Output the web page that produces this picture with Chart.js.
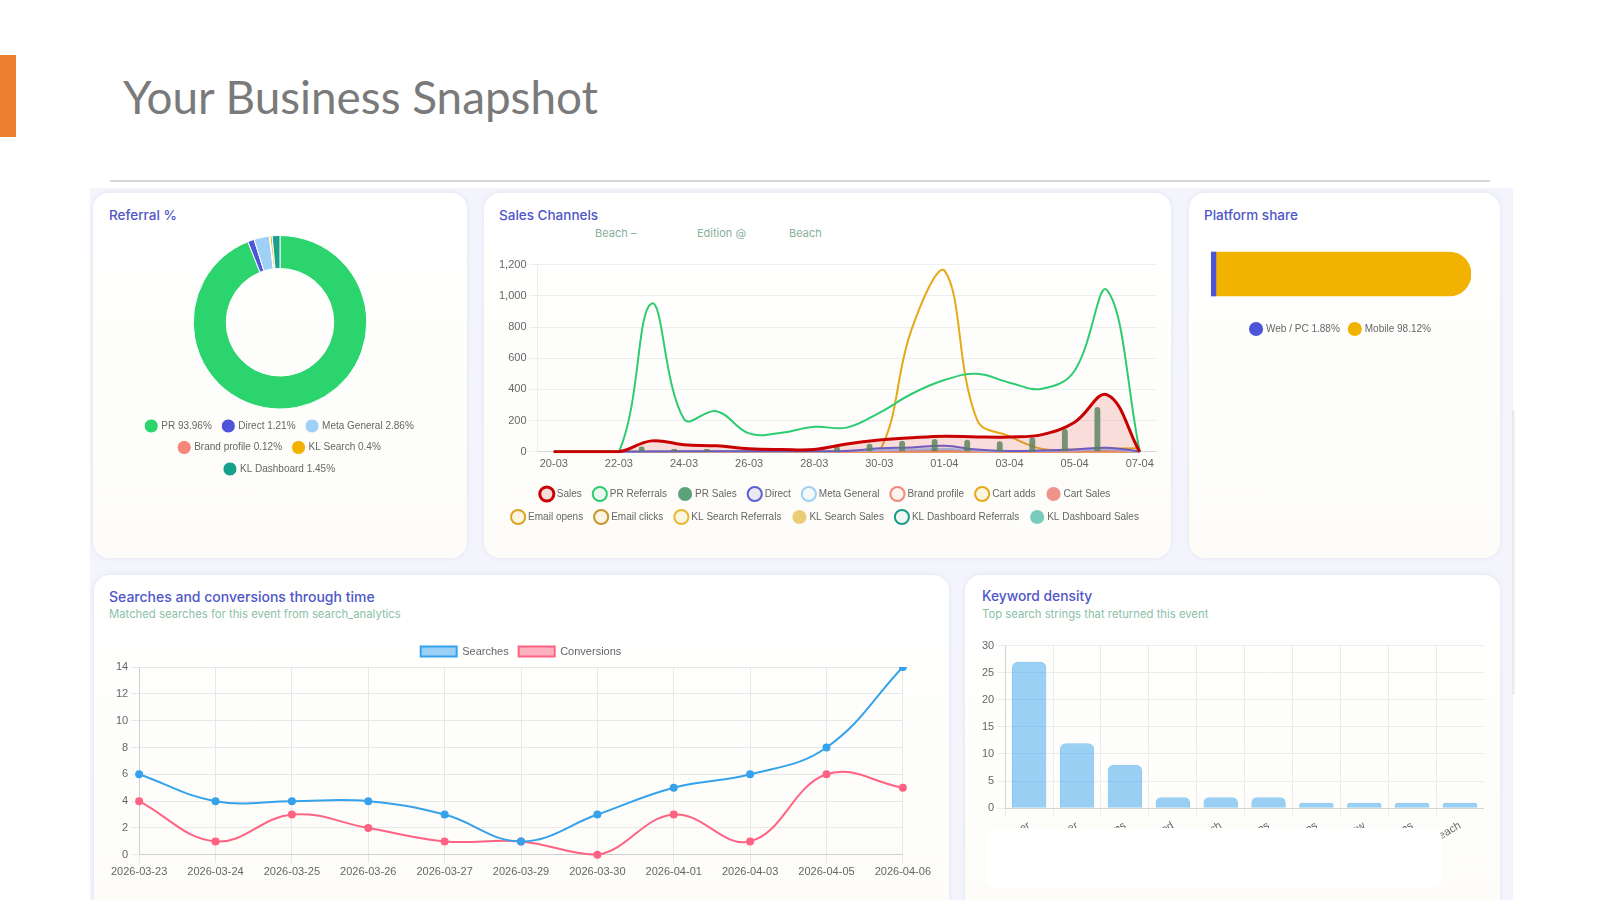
<!DOCTYPE html>
<html><head><meta charset="utf-8">
<script src="https://cdn.jsdelivr.net/npm/chart.js@4.4.1/dist/chart.umd.min.js"></script>
<style>
html,body{margin:0;padding:0;background:#fff;width:1600px;height:900px;overflow:hidden;font-family:'Liberation Sans',Arial,sans-serif;}
.abs{position:absolute;}
#accent{left:0;top:55px;width:16px;height:82px;background:#ed7d31;}
#rule{left:110px;top:180px;width:1380px;height:2px;background:#d6d6d6;}
#dash{left:90px;top:188px;width:1423px;height:712px;background:#f4f5fc;}
#scroll{left:1512px;top:410px;width:3px;height:285px;background:linear-gradient(90deg,#e4e4ea,#f6f6f9);}
.card{position:absolute;background:linear-gradient(#ffffff,#fdfcf8);border-radius:16px;box-shadow:0 0 5px rgba(205,210,238,0.55);}
.ct{position:absolute;font-family:Inter,'Open Sans',sans-serif;font-weight:500;font-size:13.5px;color:#4f56c8;white-space:nowrap;}
.cs{position:absolute;font-family:Inter,'Open Sans',sans-serif;font-size:11.3px;color:#8cbfa8;white-space:nowrap;}
.sub{position:absolute;font-family:Inter,'Open Sans',sans-serif;font-size:11px;color:#86b09c;white-space:nowrap;}
canvas{position:absolute;}
#mask{left:986px;top:828px;width:456px;height:60px;background:#fff;border-radius:12px;}
</style></head>
<body>
<div id="accent" class="abs"></div>
<svg class="abs" style="left:0;top:0" width="700" height="140"><text x="123" y="114" font-family="Lato" font-size="46" fill="#7a7a7a" textLength="475" lengthAdjust="spacingAndGlyphs">Your Business Snapshot</text></svg>
<div id="rule" class="abs"></div>
<div id="dash" class="abs"></div>
<div id="scroll" class="abs"></div>

<div class="card" style="left:93px;top:193px;width:374px;height:365px;"></div>
<div class="card" style="left:484px;top:193px;width:687px;height:365px;"></div>
<div class="card" style="left:1189px;top:193px;width:311px;height:365px;"></div>
<div class="card" style="left:94px;top:575px;width:855px;height:340px;"></div>
<div class="card" style="left:965px;top:575px;width:535px;height:340px;"></div>

<div class="ct" style="left:109px;top:207px;">Referral %</div>
<div class="ct" style="left:499px;top:207px;">Sales Channels</div>
<div class="sub" style="left:595px;top:226px;">Beach –</div>
<div class="sub" style="left:697px;top:226px;">Edition @</div>
<div class="sub" style="left:789px;top:226px;">Beach</div>
<div class="ct" style="left:1204px;top:207px;">Platform share</div>
<div class="ct" style="left:109px;top:588px;font-size:14px;">Searches and conversions through time</div>
<div class="cs" style="left:109px;top:607px;">Matched searches for this event from search_analytics</div>
<div class="ct" style="left:982px;top:588px;font-size:13.8px;">Keyword density</div>
<div class="cs" style="left:982px;top:607px;">Top search strings that returned this event</div>

<canvas id="ref" width="310" height="249" style="left:125px;top:235px;"></canvas>
<canvas id="sales" width="664" height="277" style="left:496px;top:255px;"></canvas>
<canvas id="plat" width="290" height="110" style="left:1200px;top:234px;"></canvas>
<canvas id="search" width="826" height="246" style="left:108px;top:636px;"></canvas>
<canvas id="kw" width="505" height="215" style="left:979px;top:636px;"></canvas>
<div id="mask" class="abs"></div>

<script>
// ---------- Referral % ----------
const referralLabels = ['PR', 'Direct', 'Meta General', 'Brand profile', 'KL Search', 'KL Dashboard'];
const referralPct = [93.96, 1.21, 2.86, 0.12, 0.4, 1.45];

// ---------- Sales Channels ----------
const salesDates = ['20-03','21-03','22-03','23-03','24-03','25-03','26-03','27-03','28-03','29-03','30-03','31-03','01-04','02-04','03-04','04-04','05-04','06-04','07-04'];
const salesSeries          = [0,0,0,70,45,38,20,15,15,50,75,90,100,95,95,110,190,365,0];
const prReferrals          = [0,0,0,950,210,260,118,122,160,155,250,372,460,500,443,404,520,1035,0];
const prSales              = [0,0,0,34,18,18,0,0,0,34,51,71,82,78,67,93,146,287,0];
const directSeries         = [0,0,0,2,3,3,3,3,3,5,22,28,38,14,5,8,15,26,2];
const metaGeneral          = [0,0,0,3,4,4,3,3,3,6,10,14,18,8,5,6,10,16,0];
const brandProfile         = [0,0,0,0,0,0,0,0,0,0,1,1,2,1,1,1,1,2,0];
const cartAdds             = [0,0,0,0,0,0,0,0,0,0,0,790,1163,206,99,18,15,20,22];
const cartSales            = [0,0,0,0,0,0,0,0,0,0,0,0,0,0,0,0,0,0,0];
const emailOpens           = [0,0,0,0,0,0,0,0,0,0,0,0,0,0,0,0,0,0,0];
const emailClicks          = [0,0,0,0,0,0,0,0,0,0,0,0,0,0,0,0,0,0,0];
const klSearchReferrals    = [0,0,0,0,0,0,0,0,0,0,4,8,10,6,4,3,4,6,0];
const klSearchSales        = [0,0,0,0,0,0,0,0,0,0,0,0,0,0,0,0,0,0,0];
const klDashReferrals      = [0,0,0,1,1,1,1,1,1,2,6,10,14,6,4,5,8,12,0];
const klDashSales          = [0,0,0,0,0,0,0,0,0,0,0,0,0,0,0,0,0,0,0];

// ---------- Platform share ----------
const platformLabels = ['Web / PC', 'Mobile'];
const platformPct = [1.88, 98.12];

// ---------- Searches and conversions ----------
const searchDates = ['2026-03-23','2026-03-24','2026-03-25','2026-03-26','2026-03-27','2026-03-29','2026-03-30','2026-04-01','2026-04-03','2026-04-05','2026-04-06'];
const searchesSeries    = [6,4,4,4,3,1,3,5,6,8,14];
const conversionsSeries = [4,1,3,2,1,1,0,3,1,6,5];

// ---------- Keyword density ----------
const keywordLabels = ['…er','…er','…ns','…od','…ch','…ns','…ns','…ew','…ns','…each'];
const keywordCounts = [27,12,8,2,2,2,1,1,1,1];

Chart.defaults.font.family = "'Liberation Sans', Arial, sans-serif";
Chart.defaults.color = '#666';
Chart.defaults.animation = false;

function limitLegendWidth(chart, w) {
  const lg = chart.legend;
  const fit = lg.fit;
  lg.fit = function () {
    const m = this.maxWidth;
    this.maxWidth = Math.min(m, w);
    fit.call(this);
    this.maxWidth = m;
    this.width = m;
  };
  chart.update();
}

new Chart(document.getElementById('ref'), {
  type: 'doughnut',
  data: {
    labels: referralLabels.map((l, i) => l + ' ' + referralPct[i] + '%'),
    datasets: [{
      data: referralPct,
      backgroundColor: ['#2bd46c','#4d54d8','#9fd0f6','#f4877a','#f2b200','#17a08c'],
      borderColor: '#fff', borderWidth: 1
    }]
  },
  options: {
    responsive: false, cutout: '62%',
    plugins: {
      legend: { position: 'bottom', labels: { usePointStyle: true, pointStyle: 'circle', boxHeight: 10, font: { size: 10 }, padding: 11.5 } },
      tooltip: { enabled: false }
    }
  }
});

function lineDs(label, data, border, bg, width, fill) {
  return { type: 'line', label, data, borderColor: border, backgroundColor: bg, borderWidth: width,
           fill: fill ? 'origin' : false, tension: 0.4, pointRadius: 0, pointStyle: 'circle' };
}
function barDs(label, data, bg) {
  return { type: 'bar', label, data, backgroundColor: bg, borderWidth: 0, borderRadius: 3, pointStyle: 'circle' };
}

const salesChart = new Chart(document.getElementById('sales'), {
  type: 'bar',
  data: {
    labels: salesDates,
    datasets: [
      lineDs('Sales', salesSeries, '#c80000', 'rgba(225,80,80,0.18)', 3, true),
      lineDs('PR Referrals', prReferrals, '#2ecc71', 'rgba(46,204,113,0.08)', 2, false),
      barDs('PR Sales', prSales, 'rgba(52,140,90,0.8)'),
      lineDs('Direct', directSeries, '#5b5fd6', 'rgba(91,95,214,0.12)', 2, true),
      lineDs('Meta General', metaGeneral, '#9fd0f6', 'rgba(159,208,246,0.08)', 2, false),
      lineDs('Brand profile', brandProfile, '#f4877a', 'rgba(244,135,122,0.08)', 2, false),
      lineDs('Cart adds', cartAdds, '#e6a817', 'rgba(242,190,60,0.12)', 2, false),
      barDs('Cart Sales', cartSales, 'rgba(232,120,110,0.8)'),
      lineDs('Email opens', emailOpens, '#d9a520', 'rgba(242,200,90,0.14)', 2, false),
      lineDs('Email clicks', emailClicks, '#c8962a', 'rgba(242,200,90,0.14)', 2, false),
      lineDs('KL Search Referrals', klSearchReferrals, '#e8b830', 'rgba(242,200,90,0.14)', 2, false),
      barDs('KL Search Sales', klSearchSales, 'rgba(232,195,95,0.85)'),
      lineDs('KL Dashboard Referrals', klDashReferrals, '#1a9a8a', 'rgba(26,154,138,0.06)', 2, false),
      barDs('KL Dashboard Sales', klDashSales, 'rgba(105,198,182,0.9)')
    ]
  },
  options: {
    responsive: false,
    layout: { padding: { left: 0, right: 4, top: 4 } },
    scales: {
      x: { grid: { display: false, drawTicks: false, tickLength: 0 }, ticks: { font: { size: 11 }, padding: 5.5, maxRotation: 0, autoSkip: true, maxTicksLimit: 10 } },
      y: { beginAtZero: true, max: 1200, ticks: { stepSize: 200, font: { size: 11 } }, grid: { color: '#eeeeee' }, border: { color: '#eeeeee' } }
    },
    plugins: {
      legend: { position: 'bottom', labels: { usePointStyle: true, pointStyle: 'circle', boxHeight: 10, font: { size: 10 }, padding: 13 } },
      tooltip: { enabled: false }
    }
  }
});
limitLegendWidth(salesChart, 655);

new Chart(document.getElementById('plat'), {
  type: 'bar',
  data: {
    labels: ['Platform'],
    datasets: platformLabels.map((l, i) => ({
      label: l + ' ' + platformPct[i] + '%',
      data: [platformPct[i]],
      backgroundColor: ['#4d54d8', '#f2b200'][i],
      borderWidth: 0,
      borderSkipped: false,
      borderRadius: i === 0 ? 2 : { topRight: 22, bottomRight: 22 },
      barThickness: 44,
      pointStyle: 'circle'
    }))
  },
  options: {
    responsive: false, indexAxis: 'y',
    layout: { padding: { left: 11, right: 19 } },
    scales: { x: { stacked: true, display: false, max: 100 }, y: { stacked: true, display: false } },
    plugins: {
      legend: { position: 'bottom', labels: { usePointStyle: true, pointStyle: 'circle', boxHeight: 10, font: { size: 10 }, padding: 10 } },
      tooltip: { enabled: false }
    }
  }
});

new Chart(document.getElementById('search'), {
  type: 'line',
  data: {
    labels: searchDates,
    datasets: [
      { label: 'Searches', data: searchesSeries, borderColor: '#36a2eb', backgroundColor: 'rgba(54,162,235,0.5)', pointBackgroundColor: '#36a2eb', borderWidth: 2, pointRadius: 3, tension: 0.4 },
      { label: 'Conversions', data: conversionsSeries, borderColor: '#ff6384', backgroundColor: 'rgba(255,99,132,0.5)', pointBackgroundColor: '#ff6384', borderWidth: 2, pointRadius: 3, tension: 0.4 }
    ]
  },
  options: {
    responsive: false,
    scales: {
      x: { ticks: { font: { size: 11 }, maxRotation: 0, autoSkip: false }, grid: { color: '#e8e8e8' } },
      y: { beginAtZero: true, max: 14, ticks: { stepSize: 2, font: { size: 11 } }, grid: { color: '#e8e8e8' } }
    },
    plugins: { legend: { labels: { font: { size: 11 }, boxWidth: 36, boxHeight: 10 } }, tooltip: { enabled: false } }
  }
});

new Chart(document.getElementById('kw'), {
  type: 'bar',
  data: {
    labels: keywordLabels,
    datasets: [{ label: 'Searches', data: keywordCounts, backgroundColor: 'rgba(54,162,235,0.5)', borderColor: 'rgba(54,162,235,0.6)', borderWidth: 1, borderRadius: 6 }]
  },
  options: {
    responsive: false,
    scales: {
      x: { ticks: { font: { size: 11 }, minRotation: 30, maxRotation: 30 }, grid: { color: '#ececec' } },
      y: { beginAtZero: true, max: 30, ticks: { stepSize: 5, font: { size: 11 } }, grid: { color: '#ececec' } }
    },
    plugins: { legend: { display: false }, tooltip: { enabled: false } }
  }
});
</script>
</body></html>
